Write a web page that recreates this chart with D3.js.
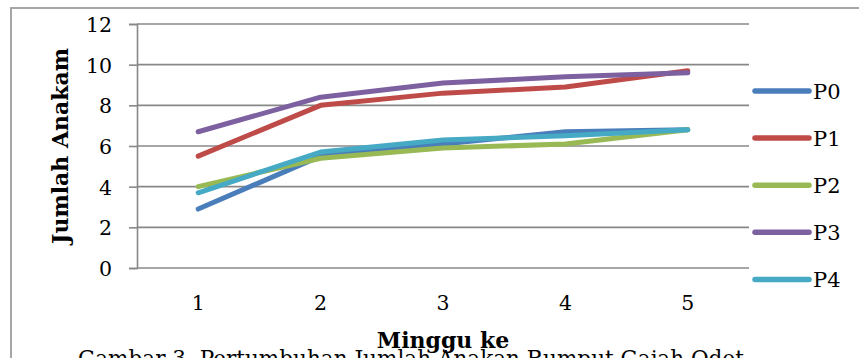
<!DOCTYPE html>
<html>
<head>
<meta charset="utf-8">
<script src="https://cdn.jsdelivr.net/npm/d3@7"></script>
<style>
  html, body { margin: 0; padding: 0; background: #fff; }
  svg { display: block; }
</style>
</head>
<body>
<svg id="chart" width="859" height="358"></svg>
<script>
// Weekly tiller counts per treatment
const weeks = ["1", "2", "3", "4", "5"];
const seriesNames = ["P0", "P1", "P2", "P3", "P4"];
const P0 = [2.9, 5.5, 6.1, 6.7, 6.8];
const P1 = [5.5, 8.0, 8.6, 8.9, 9.7];
const P2 = [4.0, 5.4, 5.9, 6.1, 6.8];
const P3 = [6.7, 8.4, 9.1, 9.4, 9.6];
const P4 = [3.7, 5.7, 6.3, 6.5, 6.8];
const yTicks = [0, 2, 4, 6, 8, 10, 12];
const colors = ["#4A7EBB", "#BE4B48", "#98B954", "#7D60A0", "#46AAC5"];

const series = [P0, P1, P2, P3, P4].map((vals, i) => ({
  name: seriesNames[i], color: colors[i], values: vals
}));

const svg = d3.select("#chart");
const serif = "'DejaVu Serif', serif";

// Outer chart frame
svg.append("path")
  .attr("d", "M11,358 L11,8 L859,8")
  .attr("fill", "none")
  .attr("stroke", "#a6a6a6")
  .attr("stroke-width", 2);

const plot = { left: 137, right: 749, top: 24, bottom: 268 };

const x = d3.scaleBand().domain(weeks).range([plot.left, plot.right]);
const y = d3.scaleLinear().domain([0, 12]).range([plot.bottom, plot.top]);

// Horizontal gridlines
svg.append("g").selectAll("line").data(yTicks).join("line")
  .attr("x1", plot.left).attr("x2", plot.right)
  .attr("y1", d => y(d)).attr("y2", d => y(d))
  .attr("stroke", "#888").attr("stroke-width", 1.6);

// Y axis with outward ticks
const yAxis = svg.append("g")
  .attr("transform", `translate(${plot.left},0)`)
  .call(d3.axisLeft(y).tickValues(yTicks).tickSize(8).tickPadding(17).tickFormat(d3.format("d")));
yAxis.select(".domain").attr("stroke", "#888").attr("stroke-width", 1.6);
yAxis.selectAll(".tick line").attr("stroke", "#888").attr("stroke-width", 1.6);
yAxis.selectAll(".tick text")
  .attr("font-family", serif).attr("font-size", 20.5).attr("fill", "#000")
  .attr("dy", "0.37em");

// X axis labels
const xAxis = svg.append("g")
  .attr("transform", `translate(0,${plot.bottom})`)
  .call(d3.axisBottom(x).tickSize(0).tickPadding(27));
xAxis.select(".domain").remove();
xAxis.selectAll(".tick text")
  .attr("font-family", serif).attr("font-size", 20.5).attr("fill", "#000");

// Series lines
const line = d3.line()
  .x((d, i) => x(weeks[i]) + x.bandwidth() / 2)
  .y(d => y(d));

svg.append("g").selectAll("path").data(series).join("path")
  .attr("d", d => line(d.values))
  .attr("fill", "none")
  .attr("stroke", d => d.color)
  .attr("stroke-width", 5)
  .attr("stroke-linecap", "round")
  .attr("stroke-linejoin", "round");

// Legend
const legend = svg.append("g").selectAll("g").data(series).join("g")
  .attr("transform", (d, i) => `translate(0,${91 + i * 47.1})`);
legend.append("line")
  .attr("x1", 755).attr("x2", 809).attr("y1", 0).attr("y2", 0)
  .attr("stroke", d => d.color).attr("stroke-width", 5.5).attr("stroke-linecap", "round");
legend.append("text")
  .attr("x", 813).attr("y", 7.5)
  .attr("font-family", serif).attr("font-size", 21).attr("fill", "#000")
  .text(d => d.name);

// Axis titles
svg.append("text")
  .attr("transform", `translate(68,${(plot.top + plot.bottom) / 2}) rotate(-90)`)
  .attr("text-anchor", "middle")
  .attr("font-family", serif).attr("font-weight", "bold").attr("font-size", 22)
  .attr("fill", "#000")
  .text("Jumlah Anakam");

svg.append("text")
  .attr("x", (plot.left + plot.right) / 2).attr("y", 348)
  .attr("text-anchor", "middle")
  .attr("font-family", serif).attr("font-weight", "bold").attr("font-size", 22)
  .attr("fill", "#000")
  .text("Minggu ke");

// Figure caption beneath the chart
svg.append("text")
  .attr("x", 78).attr("y", 366)
  .attr("textLength", 666).attr("lengthAdjust", "spacingAndGlyphs")
  .attr("font-family", serif).attr("font-size", 23)
  .attr("fill", "#000")
  .text("Gambar 3. Pertumbuhan Jumlah Anakan Rumput Gajah Odot");
</script>
</body>
</html>
